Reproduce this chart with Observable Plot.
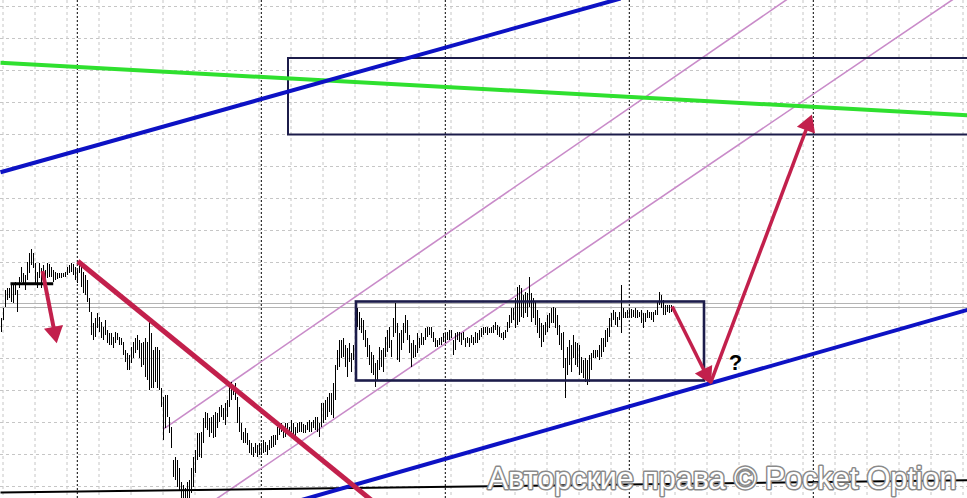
<!DOCTYPE html>
<html><head><meta charset="utf-8">
<script src="https://cdn.jsdelivr.net/npm/d3@7"></script>
<script src="https://cdn.jsdelivr.net/npm/@observablehq/plot@0.6"></script>
<style>html,body{margin:0;padding:0;background:#fff;} #chart svg{overflow:hidden;display:block;background:#fff}</style>
</head><body><div id="chart"></div>
<script>
// OHLC bars: high / low prices per bar (bar index = time)
const barHigh = [
180,190,208,210,210,215,213,216,208,221,
231,225,223,236,245,249,245,235,226,235,
230,233,228,235,234,231,228,226,225,225,
225,225,226,231,233,235,234,231,228,236,
233,226,223,218,200,186,175,180,185,181,
176,171,178,168,165,165,161,166,165,161,
160,156,148,145,143,151,156,160,163,158,
155,156,160,156,176,165,148,151,151,148,
110,101,103,103,81,71,38,41,38,30,
16,13,10,16,18,30,41,48,65,65,
66,80,86,85,80,81,83,86,85,91,
93,90,95,98,111,116,113,115,101,91,
75,66,70,65,58,55,51,55,53,55,
55,58,56,53,58,62,63,63,71,75,
75,72,75,75,71,78,75,71,75,76,
76,74,73,76,78,76,78,81,81,75,
95,95,98,101,105,105,115,133,148,158,
158,160,153,150,155,145,153,188,190,186,
180,178,168,160,153,146,143,135,138,151,
148,150,161,168,171,158,180,195,175,165,
168,175,183,178,163,155,158,153,165,160,
165,161,170,171,171,171,166,160,158,160,
161,165,165,166,168,168,158,165,166,166,
165,166,160,161,160,163,161,166,165,168,
170,171,171,171,170,171,173,176,173,171,
165,166,168,176,183,190,190,200,211,213,
210,203,206,205,221,205,200,196,188,180,
175,173,176,183,185,190,191,190,183,173,
165,166,140,151,158,153,163,156,155,153,
141,138,140,138,143,145,148,148,148,153,
160,160,168,170,180,185,188,186,181,186,
213,190,186,188,188,189,188,190,188,186,
188,185,185,188,186,186,186,188,196,206,
203,198,193,193,193,193];
const barLow = [
166,178,191,198,200,196,195,203,186,210,
216,215,208,218,225,233,230,215,210,220,
210,223,215,220,221,221,216,218,219,220,
220,221,221,223,225,226,223,218,215,225,
211,205,203,196,186,163,158,161,170,166,
160,158,163,155,153,153,150,155,158,153,
153,143,136,128,128,135,140,145,148,140,
131,133,121,118,108,110,110,116,110,108,
91,58,70,81,65,50,21,18,11,8,
-4,-4,-4,-4,-4,5,11,25,38,41,
40,55,70,68,61,65,60,61,70,76,
81,78,73,81,91,98,103,98,75,66,
58,55,55,53,45,43,41,45,41,43,
43,45,46,43,48,50,51,53,58,63,
66,60,61,66,65,66,63,61,65,66,
66,65,65,68,66,66,70,68,66,61,
71,75,78,81,86,83,80,98,128,131,
140,141,131,121,136,126,138,165,171,168,
165,158,151,141,133,125,123,111,118,128,
131,126,141,146,150,141,161,165,138,136,
148,155,165,158,145,131,140,141,145,150,
153,153,158,161,163,160,156,151,151,153,
153,156,155,158,158,160,143,148,158,156,
153,158,151,155,151,155,153,155,155,158,
161,163,165,163,165,165,165,168,163,161,
160,158,160,166,170,175,178,170,173,176,
181,180,185,181,191,176,180,173,165,160,
151,156,163,166,170,175,175,170,163,153,
148,130,100,123,133,126,140,133,131,123,
125,120,116,113,116,128,140,140,141,138,
141,146,151,156,161,171,178,173,171,178,
165,180,180,180,181,180,181,180,180,181,
175,170,176,180,180,178,176,183,183,193,
190,183,183,186,185,186];

// Drawn objects, in (time, price) units
const sessionTimes = [37.9, 129.9, 221.9, 313.9, 405.9];
const priceLines = [195, 191];
const blueTrendUpper = {x1: -0.5, y1: 326.3, x2: 309.5, y2: 500};
const blueTrendLower = {x1: 147, y1: -3.2, x2: 483, y2: 188.7};
const greenLine = {x1: -0.5, y1: 435.7, x2: 483, y2: 383.3};
const blackBaseLine = {x1: -0.5, y1: 6, x2: 483, y2: 18.3};
const crimsonTrend = {x1: 38.15, y1: 237.3, x2: 187, y2: -5};
const channelLines = [
  {x1: 81.15, y1: 69.7, x2: 394.5, y2: 501.5},
  {x1: 107, y1: -1, x2: 479.5, y2: 504.2}
];
const levelSegment = {x1: 4.5, x2: 25.85, y: 214.7};
const targetZone = {x1: 143.5, x2: 490, y1: 363.5, y2: 440};
const rangeBox = {x1: 177.5, x2: 351.5, y1: 117.5, y2: 196.5};
const arrows = [
  {x1: 20.5, y1: 227.3, x2: 27.5, y2: 156.3, w: 4},
  {x1: 335.35, y1: 192, x2: 354.5, y2: 115.3, w: 3.5},
  {x1: 354.5, y1: 115.3, x2: 405, y2: 383, w: 3.5}
];
const questionMark = {x: 367, y: 136, label: "?"};
const watermark = "Авторские права © Pocket Option";

const bars = barHigh.map((h, i) => ({t: i, high: h, low: barLow[i]}));

// arrowhead geometry (x scale: 2 px per unit, y scale: 1 px per unit)
const heads = arrows.map(a => {
  const dx = (a.x2 - a.x1) * 2, dy = -(a.y2 - a.y1);
  const len = Math.hypot(dx, dy), ux = dx / len, uy = dy / len;
  const back = 10;
  return {x: a.x2 - back * ux / 2, y: a.y2 + back * uy,
          rot: Math.atan2(ux, -uy) * 180 / Math.PI,
          lx: a.x2 - (back + 2) * ux / 2, ly: a.y2 + (back + 2) * uy};
});

const crimson = "#c2204c";
const navy = "#1c1c4a";
const blue = "#0d12c4";

const chart = Plot.plot({
  width: 967, height: 498, margin: 0,
  x: {domain: [-0.5, 483], axis: null},
  y: {domain: [0, 498], axis: null},
  style: {background: "#fff"},
  marks: [
    Plot.ruleX(d3.range(0.75, 484, 16), {stroke: "#c6c6c6", strokeDasharray: "3,3", strokeWidth: 1}),
    Plot.ruleY(d3.range(12, 493, 32), {stroke: "#c6c6c6", strokeDasharray: "3,3", strokeWidth: 1}),
    Plot.ruleX(sessionTimes, {stroke: "#000", strokeDasharray: "2,2", strokeWidth: 1}),
    Plot.ruleY(priceLines, {stroke: "#b4b4b4", strokeWidth: 1}),
    Plot.link(channelLines, {x1: "x1", y1: "y1", x2: "x2", y2: "y2", stroke: "#c98bc9", strokeWidth: 1.6}),
    Plot.ruleX(bars, {x: "t", y1: "low", y2: "high", stroke: "#000", strokeWidth: 1}),
    Plot.rect([targetZone], {x1: "x1", x2: "x2", y1: "y1", y2: "y2", fill: "none", stroke: navy, strokeWidth: 2}),
    Plot.rect([rangeBox], {x1: "x1", x2: "x2", y1: "y1", y2: "y2", fill: "none", stroke: navy, strokeWidth: 2.6}),
    Plot.link([blackBaseLine], {x1: "x1", y1: "y1", x2: "x2", y2: "y2", stroke: "#000", strokeWidth: 2}),
    Plot.link([levelSegment], {x1: "x1", x2: "x2", y1: "y", y2: "y", stroke: "#000", strokeWidth: 3}),
    Plot.link([greenLine], {x1: "x1", y1: "y1", x2: "x2", y2: "y2", stroke: "#2fe02f", strokeWidth: 4}),
    Plot.link([blueTrendUpper, blueTrendLower], {x1: "x1", y1: "y1", x2: "x2", y2: "y2", stroke: blue, strokeWidth: 4}),
    Plot.link([crimsonTrend], {x1: "x1", y1: "y1", x2: "x2", y2: "y2", stroke: crimson, strokeWidth: 5}),
    Plot.link(arrows.map((a, i) => ({...a, ex: heads[i].lx, ey: heads[i].ly})), {x1: "x1", y1: "y1", x2: "ex", y2: "ey", stroke: crimson, strokeWidth: "w"}),
    Plot.dot(heads, {x: "x", y: "y", symbol: "triangle", r: 7.2, fill: crimson, stroke: "none", rotate: "rot"}),
    Plot.text([questionMark], {x: "x", y: "y", text: "label", fontSize: 22, fontWeight: "bold", fill: "#000", fontFamily: "Liberation Sans, Arial, sans-serif"}),
    Plot.text([watermark], {frameAnchor: "bottom-right", textAnchor: "end", lineAnchor: "middle", dx: -11, dy: -19,
      fontSize: 30.5, fontFamily: "Liberation Sans, Arial, sans-serif", fill: "#ffffff", stroke: "#8a8a8a", strokeWidth: 3})
  ]
});
document.getElementById("chart").appendChild(chart);
</script>
</body></html>
